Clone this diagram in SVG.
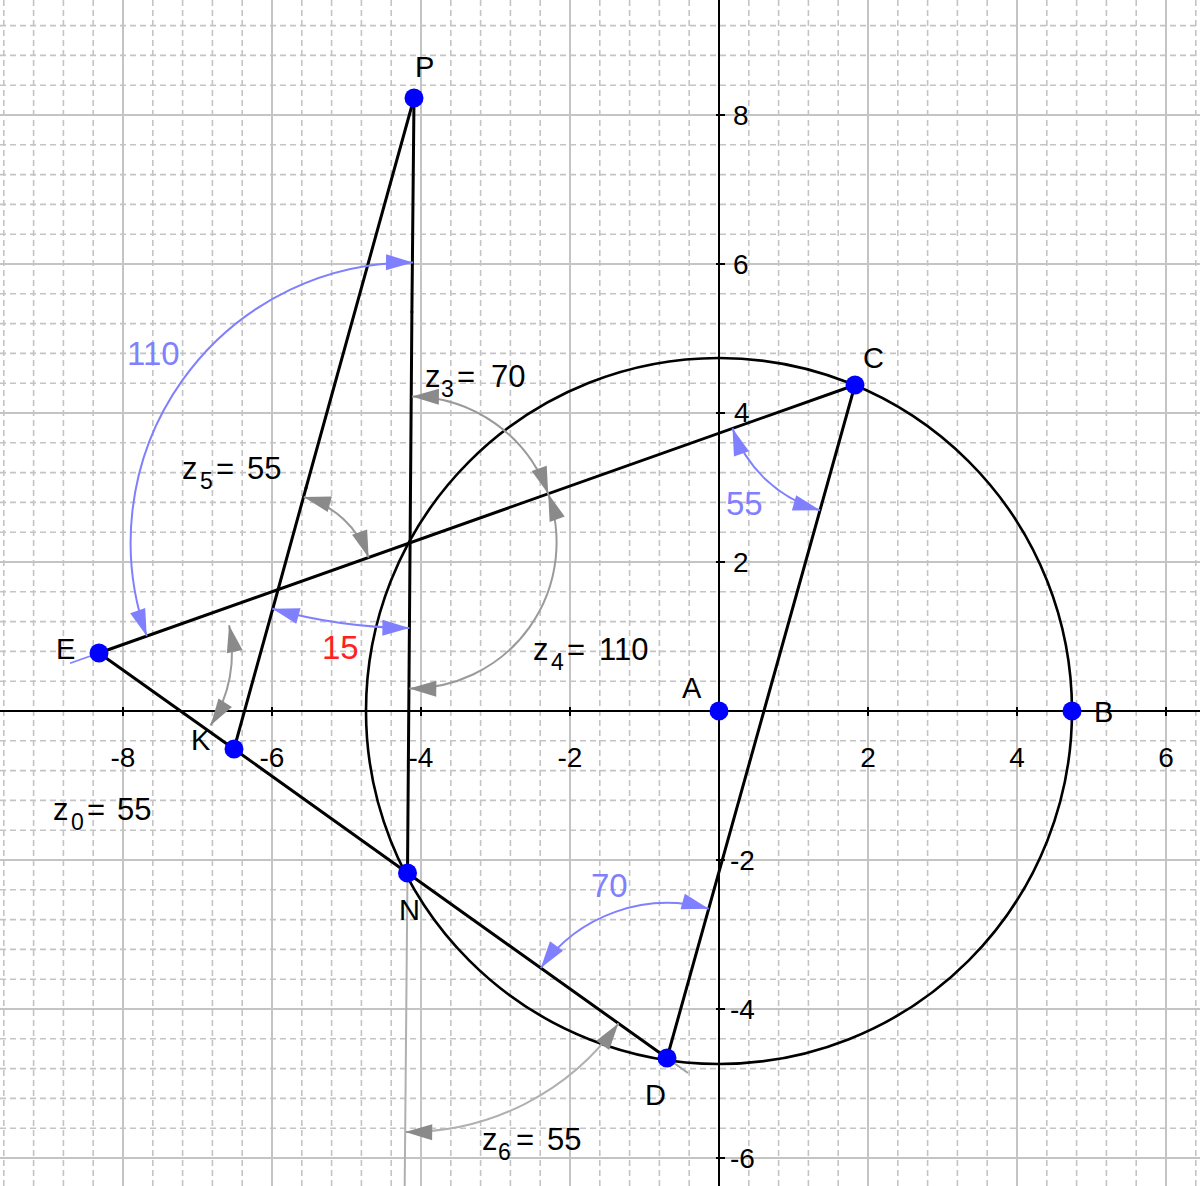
<svg xmlns="http://www.w3.org/2000/svg" width="1200" height="1186" viewBox="0 0 1200 1186">
<style>
.gm{stroke:#c4c4c4;stroke-width:1.6;fill:none;stroke-dasharray:6 4}
.gM{stroke:#c4c4c4;stroke-width:2;fill:none}
.ax{stroke:#000;stroke-width:2;fill:none}
.seg{stroke:#000;stroke-width:3;fill:none;stroke-linecap:round}
.txt{font-family:"Liberation Sans",Arial,sans-serif;fill:#000}
.tk{font-size:28px}
.pl{font-size:29px}
.zl{font-size:31px}
.sub{font-size:23px}
.al{font-size:33px}
.arcg{stroke:#9a9a9a;stroke-width:2;fill:none;marker-start:url(#mg);marker-end:url(#mg)}
.arcg2{stroke:#b0b0b0;stroke-width:2;fill:none;marker-start:url(#mg);marker-end:url(#mg)}
.arcb{stroke:#8080ff;stroke-width:2;fill:none;marker-start:url(#mb);marker-end:url(#mb)}
.pt{fill:#0000ff}
</style>
<defs>
<marker id="mg" markerUnits="userSpaceOnUse" orient="auto-start-reverse" refX="0" refY="0" markerWidth="40" markerHeight="40" overflow="visible"><path d="M0,0 L-27,-8 L-27,8 Z" fill="#8a8a8a"/></marker>
<marker id="mb" markerUnits="userSpaceOnUse" orient="auto-start-reverse" refX="0" refY="0" markerWidth="40" markerHeight="40" overflow="visible"><path d="M0,0 L-27,-8 L-27,8 Z" fill="#8080ff"/></marker>
</defs>
<rect x="0" y="0" width="1200" height="1186" fill="#fff"/>
<g id="grid">
<path class="gm" d="M3.8,0V1186M33.6,0V1186M63.4,0V1186M93.2,0V1186M152.8,0V1186M182.6,0V1186M212.4,0V1186M242.2,0V1186M301.8,0V1186M331.6,0V1186M361.4,0V1186M391.2,0V1186M450.8,0V1186M480.6,0V1186M510.4,0V1186M540.2,0V1186M599.8,0V1186M629.6,0V1186M659.4,0V1186M689.2,0V1186M748.8,0V1186M778.6,0V1186M808.4,0V1186M838.2,0V1186M897.8,0V1186M927.6,0V1186M957.4,0V1186M987.2,0V1186M1046.8,0V1186M1076.6,0V1186M1106.4,0V1186M1136.2,0V1186M1195.8,0V1186"/>
<path class="gm" d="M0,25.6H1200M0,55.4H1200M0,85.2H1200M0,144.8H1200M0,174.6H1200M0,204.4H1200M0,234.2H1200M0,293.8H1200M0,323.6H1200M0,353.4H1200M0,383.2H1200M0,442.8H1200M0,472.6H1200M0,502.4H1200M0,532.2H1200M0,591.8H1200M0,621.6H1200M0,651.4H1200M0,681.2H1200M0,740.8H1200M0,770.6H1200M0,800.4H1200M0,830.2H1200M0,889.8H1200M0,919.6H1200M0,949.4H1200M0,979.2H1200M0,1038.8H1200M0,1068.6H1200M0,1098.4H1200M0,1128.2H1200"/>
<path class="gM" d="M123,0V1186M272,0V1186M421,0V1186M570,0V1186M868,0V1186M1017,0V1186M1166,0V1186M0,115H1200M0,264H1200M0,413H1200M0,562H1200M0,860H1200M0,1009H1200M0,1158H1200"/>
</g>
<g id="axes">
<path class="ax" d="M0,711H1200M719,0V1186"/>
<path class="ax" d="M123,707V716M272,707V716M421,707V716M570,707V716M868,707V716M1017,707V716M1166,707V716M716,115H725M716,264H725M716,413H725M716,562H725M716,860H725M716,1009H725M716,1158H725"/>
<g class="txt tk" text-anchor="middle">
<text x="123" y="767">-8</text><text x="272" y="767">-6</text><text x="421" y="767">-4</text><text x="570" y="767">-2</text><text x="868" y="767">2</text><text x="1017" y="767">4</text><text x="1166" y="767">6</text>
</g>
<g class="txt tk">
<text x="733" y="125">8</text><text x="733" y="274">6</text><text x="734" y="422">4</text><text x="733" y="572">2</text><text x="730" y="870">-2</text><text x="730" y="1019">-4</text><text x="730" y="1168">-6</text>
</g>
</g>
<g id="connectors">
<circle cx="719" cy="711" r="353" fill="none" stroke="#000" stroke-width="2.6"/>
<line x1="70" y1="663.3" x2="99" y2="653" stroke="#8080ff" stroke-width="1.6"/>
<line class="seg" x1="99" y1="653" x2="855" y2="385"/>
<line class="seg" x1="855" y1="385" x2="667" y2="1058"/>
<line x1="667" y1="1058" x2="688" y2="1073" stroke="#a0a0a0" stroke-width="2"/>
<line class="seg" x1="99" y1="653" x2="234" y2="749" stroke="#333"/>
<line class="seg" x1="234" y1="749" x2="407.5" y2="873"/>
<line class="seg" x1="407.5" y1="873" x2="667" y2="1058" stroke="#4a4a4a" stroke-width="3.5"/>
<line class="seg" x1="234" y1="749" x2="278.1" y2="589.5"/>
<line class="seg" x1="278.1" y1="589.5" x2="306" y2="488" stroke="#444"/>
<line class="seg" x1="306" y1="488" x2="414" y2="98"/>
<line x1="407.5" y1="873" x2="404.7" y2="1186" stroke="#b0b0b0" stroke-width="2"/>
<line class="seg" x1="414" y1="98" x2="411.9" y2="312"/>
<line class="seg" x1="411.9" y1="312" x2="407.5" y2="873" stroke="#3a3a4e"/>
</g>
<g id="angles">
<path id="ang110" class="arcb" d="M146.7,636 A280,280 0 0 1 413,262.5"/>
<path id="ang15" class="arcb" d="M409.4,628 A530,530 0 0 1 272.4,608.7"/>
<path id="angC55" class="arcb" d="M820,510.2 A130,130 0 0 1 732.5,428.4"/>
<path id="angD70" class="arcb" d="M540.8,968 A155,155 0 0 1 708.7,908.7"/>
<path id="z0arc" class="arcg" d="M229.1,625.3 A133,133 0 0 1 210.5,725.4"/>
<path id="z3arc" class="arcg" d="M411.9,396.5 A146,146 0 0 1 548.2,493.8"/>
<path id="z4arc" class="arcg" d="M548.2,493.8 A146,146 0 0 1 409.3,688.5"/>
<path id="z5arc" class="arcg" d="M303.8,497 A96,96 0 0 1 368.6,557.5"/>
<path id="z6arc" class="arcg2" d="M618.4,1023.4 A259,259 0 0 1 405.2,1132"/>
</g>
<g id="angle-labels">
<text class="txt al" x="127" y="365" fill="#8080ff" style="fill:#8080ff">110</text>
<text class="txt al" x="322" y="659" style="fill:#ff2020">15</text>
<text class="txt al" x="726" y="515" style="fill:#8080ff">55</text>
<text class="txt al" x="591" y="897" style="fill:#8080ff">70</text>
<text class="txt zl" y="820"><tspan x="53">z</tspan><tspan class="sub" x="71" dy="10">0</tspan><tspan x="87" dy="-10">=</tspan><tspan x="117">55</tspan></text>
<text class="txt zl" y="479"><tspan x="182">z</tspan><tspan class="sub" x="200" dy="10">5</tspan><tspan x="216" dy="-10">=</tspan><tspan x="247">55</tspan></text>
<text class="txt zl" y="387"><tspan x="425">z</tspan><tspan class="sub" x="441" dy="10">3</tspan><tspan x="457" dy="-10">=</tspan><tspan x="491">70</tspan></text>
<text class="txt zl" y="660"><tspan x="533">z</tspan><tspan class="sub" x="551" dy="10">4</tspan><tspan x="567" dy="-10">=</tspan><tspan x="599">110</tspan></text>
<text class="txt zl" y="1150"><tspan x="482">z</tspan><tspan class="sub" x="498" dy="10">6</tspan><tspan x="516" dy="-10">=</tspan><tspan x="547">55</tspan></text>
</g>
<g id="A"><circle class="pt" cx="719" cy="711" r="9.5"/><text class="txt pl" x="682" y="698">A</text></g>
<g id="B"><circle class="pt" cx="1072" cy="711" r="9.5"/><text class="txt pl" x="1094" y="722">B</text></g>
<g id="C"><circle class="pt" cx="855" cy="385" r="9.5"/><text class="txt pl" x="863" y="368">C</text></g>
<g id="D"><circle class="pt" cx="667" cy="1058" r="9.5"/><text class="txt pl" x="645" y="1105">D</text></g>
<g id="E"><circle class="pt" cx="99" cy="653" r="9.5"/><text class="txt pl" x="56" y="659">E</text></g>
<g id="K"><circle class="pt" cx="234" cy="749" r="9.5"/><text class="txt pl" x="191" y="750">K</text></g>
<g id="N"><circle class="pt" cx="407.5" cy="873" r="9.5"/><text class="txt pl" x="399" y="920">N</text></g>
<g id="P"><circle class="pt" cx="414" cy="98" r="9.5"/><text class="txt pl" x="415" y="77">P</text></g>
</svg>
